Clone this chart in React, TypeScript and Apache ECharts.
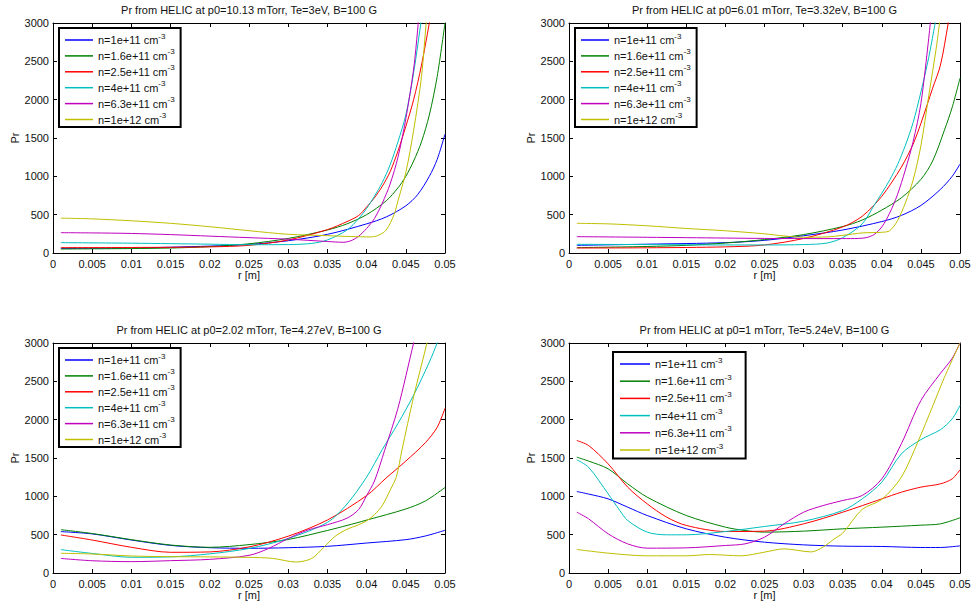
import React, { useEffect, useRef } from "react";
import * as echarts from "echarts";

const seriesNames = ["n=1e+11", "n=1.6e+11", "n=2.5e+11", "n=4e+11", "n=6.3e+11", "n=1e+12"];
const seriesColors = ["#0000ff", "#008000", "#ff0000", "#00bfbf", "#bf00bf", "#bfbf00"];
const panelTitles = [
  "Pr from HELIC at p0=10.13 mTorr, Te=3eV, B=100 G",
  "Pr from HELIC at p0=6.01 mTorr, Te=3.32eV, B=100 G",
  "Pr from HELIC at p0=2.02 mTorr, Te=4.27eV, B=100 G",
  "Pr from HELIC at p0=1 mTorr, Te=5.24eV, B=100 G",
];
const xMin = 0, xMax = 0.05, xStep = 0.005;
const yMin = 0, yMax = 3000, yStep = 500;

// Panel 1: p0=10.13 mTorr
const p1_n1 = [[0.001,60],[0.01,65],[0.02,90],[0.025,112],[0.03,160],[0.035,243],[0.04,380],[0.0425,470],[0.045,615],[0.0465,760],[0.048,1000],[0.049,1220],[0.05,1550]];
const p1_n2 = [[0.001,52],[0.01,58],[0.015,65],[0.02,83],[0.025,120],[0.03,190],[0.035,300],[0.0375,380],[0.04,500],[0.0425,680],[0.044,850],[0.045,1000],[0.046,1200],[0.047,1450],[0.048,1800],[0.049,2300],[0.05,3000]];
const p1_n3 = [[0.001,70],[0.01,72],[0.02,80],[0.025,100],[0.03,170],[0.035,305],[0.0375,410],[0.039,490],[0.04,600],[0.041,720],[0.042,870],[0.043,1060],[0.044,1330],[0.045,1650],[0.046,2000],[0.047,2450],[0.048,3000],[0.049,3600]];
const p1_n4 = [[0.001,135],[0.01,128],[0.02,115],[0.025,108],[0.03,110],[0.033,125],[0.035,170],[0.0375,300],[0.039,450],[0.04,580],[0.041,740],[0.042,920],[0.043,1150],[0.044,1450],[0.045,1800],[0.046,2350],[0.047,3050],[0.048,3700]];
const p1_n5 = [[0.001,265],[0.005,262],[0.01,255],[0.015,240],[0.02,220],[0.025,200],[0.03,180],[0.035,150],[0.037,140],[0.038,160],[0.039,220],[0.04,320],[0.041,450],[0.042,650],[0.043,900],[0.044,1250],[0.045,1750],[0.046,2400],[0.0465,2900],[0.047,3500]];
const p1_n6 = [[0.001,455],[0.005,445],[0.01,420],[0.015,387],[0.02,343],[0.025,291],[0.03,244],[0.035,226],[0.038,215],[0.0405,210],[0.0415,230],[0.0425,300],[0.0435,500],[0.044,680],[0.045,1050],[0.046,1600],[0.047,2300],[0.0476,3000],[0.048,3400]];

// Panel 2: p0=6.01 mTorr
const p2_n1 = [[0.001,100],[0.01,115],[0.02,135],[0.025,165],[0.03,225],[0.035,300],[0.04,410],[0.0425,490],[0.045,620],[0.0475,830],[0.049,1000],[0.05,1160]];
const p2_n2 = [[0.001,70],[0.01,85],[0.015,100],[0.02,130],[0.025,175],[0.03,240],[0.035,345],[0.0375,430],[0.04,560],[0.0425,720],[0.045,960],[0.0465,1200],[0.048,1600],[0.049,1900],[0.05,2280]];
const p2_n3 = [[0.001,65],[0.01,68],[0.02,80],[0.025,105],[0.03,190],[0.035,340],[0.0375,480],[0.04,740],[0.0425,1120],[0.044,1420],[0.045,1690],[0.0465,2150],[0.0475,2450],[0.0485,3000],[0.049,3300]];
const p2_n4 = [[0.001,113],[0.01,110],[0.02,105],[0.025,105],[0.03,110],[0.033,130],[0.035,200],[0.0375,380],[0.039,620],[0.04,780],[0.041,950],[0.042,1150],[0.043,1400],[0.044,1700],[0.045,2100],[0.046,2550],[0.047,3100]];
const p2_n5 = [[0.001,213],[0.01,205],[0.02,195],[0.025,190],[0.03,188],[0.035,188],[0.037,190],[0.038,200],[0.039,240],[0.04,340],[0.041,520],[0.042,760],[0.043,1080],[0.044,1450],[0.045,1950],[0.046,2800],[0.0465,3300]];
const p2_n6 = [[0.001,387],[0.005,380],[0.01,355],[0.015,320],[0.02,290],[0.025,250],[0.0275,222],[0.03,205],[0.033,210],[0.035,230],[0.0375,262],[0.04,270],[0.041,290],[0.042,420],[0.043,650],[0.044,950],[0.045,1400],[0.046,2050],[0.047,2700],[0.0475,3100]];

// Panel 3: p0=2.02 mTorr
const p3_n1 = [[0.001,540],[0.005,510],[0.01,430],[0.015,360],[0.02,330],[0.025,322],[0.03,330],[0.035,348],[0.04,391],[0.045,435],[0.0475,483],[0.05,557]];
const p3_n2 = [[0.001,565],[0.005,515],[0.01,435],[0.015,365],[0.02,335],[0.025,370],[0.03,437],[0.035,555],[0.0375,620],[0.04,690],[0.045,835],[0.0475,940],[0.05,1115]];
const p3_n3 = [[0.001,496],[0.005,430],[0.01,335],[0.015,270],[0.02,275],[0.025,340],[0.03,480],[0.035,691],[0.04,1010],[0.0425,1240],[0.045,1460],[0.0475,1700],[0.049,1900],[0.05,2148]];
const p3_n4 = [[0.001,305],[0.005,255],[0.01,205],[0.015,210],[0.02,250],[0.025,320],[0.03,450],[0.035,660],[0.0375,900],[0.04,1250],[0.042,1610],[0.044,1950],[0.046,2320],[0.048,2750],[0.049,3000],[0.05,3250]];
const p3_n5 = [[0.001,190],[0.005,160],[0.01,148],[0.015,161],[0.02,178],[0.025,230],[0.0275,320],[0.03,450],[0.0325,560],[0.035,630],[0.0375,715],[0.039,830],[0.04,1010],[0.041,1200],[0.0423,1600],[0.044,2150],[0.046,3000],[0.047,3400]];
const p3_n6 = [[0.001,257],[0.005,248],[0.01,222],[0.015,213],[0.02,210],[0.025,204],[0.028,191],[0.031,143],[0.033,190],[0.0345,330],[0.036,480],[0.0375,570],[0.039,630],[0.04,680],[0.041,760],[0.042,880],[0.043,1080],[0.0438,1256],[0.0445,1600],[0.046,2300],[0.0477,3000],[0.048,3150]];

// Panel 4: p0=1 mTorr
const p4_n1 = [[0.001,1063],[0.0025,1030],[0.005,967],[0.0075,859],[0.01,750],[0.015,576],[0.02,467],[0.025,402],[0.03,367],[0.035,350],[0.04,346],[0.045,333],[0.0475,333],[0.05,354]];
const p4_n2 = [[0.001,1511],[0.0025,1460],[0.005,1359],[0.0075,1163],[0.01,989],[0.015,750],[0.02,598],[0.0225,554],[0.025,533],[0.03,546],[0.035,576],[0.04,598],[0.045,624],[0.0475,641],[0.05,720]];
const p4_n3 = [[0.001,1728],[0.0025,1663],[0.005,1424],[0.0075,1120],[0.01,902],[0.0125,728],[0.015,620],[0.02,541],[0.025,546],[0.03,641],[0.035,793],[0.04,967],[0.0425,1054],[0.045,1120],[0.0475,1163],[0.049,1228],[0.05,1346]];
const p4_n4 = [[0.001,1476],[0.0025,1380],[0.005,1033],[0.0065,815],[0.0075,685],[0.01,533],[0.0125,498],[0.015,498],[0.02,541],[0.025,607],[0.03,676],[0.035,815],[0.0375,967],[0.04,1185],[0.0425,1554],[0.045,1740],[0.0475,1870],[0.049,2011],[0.05,2185]];
const p4_n5 = [[0.001,793],[0.0025,707],[0.005,511],[0.0075,380],[0.01,324],[0.015,328],[0.02,359],[0.0225,380],[0.025,467],[0.0275,641],[0.03,793],[0.0325,880],[0.035,946],[0.0375,1011],[0.04,1228],[0.0425,1685],[0.045,2250],[0.0475,2604],[0.049,2800],[0.05,3000]];
const p4_n6 = [[0.001,307],[0.005,259],[0.01,224],[0.015,224],[0.018,241],[0.022,224],[0.025,272],[0.0275,315],[0.031,275],[0.0325,340],[0.034,450],[0.035,520],[0.0375,830],[0.04,960],[0.0425,1250],[0.0446,1707],[0.0466,2200],[0.048,2550],[0.05,3000]];

const panelData = [
  [p1_n1, p1_n2, p1_n3, p1_n4, p1_n5, p1_n6],
  [p2_n1, p2_n2, p2_n3, p2_n4, p2_n5, p2_n6],
  [p3_n1, p3_n2, p3_n3, p3_n4, p3_n5, p3_n6],
  [p4_n1, p4_n2, p4_n3, p4_n4, p4_n5, p4_n6],
];

const FONT = '"Liberation Sans", Arial, Helvetica, sans-serif';
const TXT = "#111";

const grids = [
  { left: 53, top: 23, width: 392, height: 230 },
  { left: 569, top: 23, width: 391, height: 230 },
  { left: 53, top: 343, width: 392, height: 230 },
  { left: 569, top: 343, width: 391, height: 230 },
];

const legendPos = [
  { left: 59, top: 28, itemWidth: 28, itemGap: 2.4, padding: [4, 6, 2, 6] },
  { left: 575, top: 28, itemWidth: 28, itemGap: 2.4, padding: [4, 6, 2, 6] },
  { left: 59, top: 348, itemWidth: 28, itemGap: 2.4, padding: [4, 6, 2, 6] },
  { left: 613, top: 352, itemWidth: 30, itemGap: 3.7, padding: [4, 14, 3, 7] },
];

export default function App() {
  const ref = useRef<HTMLDivElement>(null);
  useEffect(() => {
    const chart = echarts.init(ref.current!, null, { renderer: "svg" });
    const xAxes: any[] = [];
    const yAxes: any[] = [];
    const series: any[] = [];
    const legends: any[] = [];
    const graphics: any[] = [];
    const fmtX = (v: number) => String(+v.toFixed(3));
    const fmtY = (v: number) => String(Math.round(v));
    grids.forEach((g, i) => {
      const tick = { show: true, inside: true, length: 4, lineStyle: { color: "#000", width: 1 } };
      const line = { show: true, onZero: false, lineStyle: { color: "#000", width: 1 } };
      xAxes.push({
        type: "value", gridIndex: i, min: xMin, max: xMax, interval: xStep, position: "bottom",
        axisLine: line, axisTick: tick, splitLine: { show: false },
        axisLabel: { color: TXT, fontSize: 11, fontFamily: FONT, margin: 5, formatter: fmtX },
        name: "r [m]", nameLocation: "middle", nameGap: 16,
        nameTextStyle: { color: TXT, fontSize: 11, fontFamily: FONT },
      });
      xAxes.push({
        type: "value", gridIndex: i, min: xMin, max: xMax, interval: xStep, position: "top",
        axisLine: line, axisTick: tick, splitLine: { show: false }, axisLabel: { show: false },
      });
      yAxes.push({
        type: "value", gridIndex: i, min: yMin, max: yMax, interval: yStep, position: "left",
        axisLine: line, axisTick: tick, splitLine: { show: false },
        axisLabel: { color: TXT, fontSize: 11, fontFamily: FONT, margin: 4, formatter: fmtY },
        name: "Pr", nameLocation: "middle", nameGap: 30,
        nameTextStyle: { color: TXT, fontSize: 11, fontFamily: FONT },
      });
      yAxes.push({
        type: "value", gridIndex: i, min: yMin, max: yMax, interval: yStep, position: "right",
        axisLine: line, axisTick: tick, splitLine: { show: false }, axisLabel: { show: false },
      });
      panelData[i].forEach((d, j) => {
        series.push({
          type: "line", name: seriesNames[j], xAxisIndex: 2 * i, yAxisIndex: 2 * i,
          data: d, showSymbol: false, symbol: "none", smooth: 0.3,
          clip: true, silent: true,
          lineStyle: { width: 1, color: seriesColors[j] }, itemStyle: { color: seriesColors[j] },
        });
      });
      const lp = legendPos[i];
      legends.push({
        orient: "vertical", left: lp.left, top: lp.top, data: seriesNames, icon: "rect",
        itemWidth: lp.itemWidth, itemHeight: 1.5, itemGap: lp.itemGap, padding: lp.padding,
        borderColor: "#000", borderWidth: 2, backgroundColor: "#fff", selectedMode: false, align: "left",
        formatter: (n: string) => `{b|${n} cm}{s|-3}`,
        textStyle: {
          fontFamily: FONT, fontSize: 11, color: TXT,
          rich: {
            b: { fontFamily: FONT, fontSize: 11, color: TXT, lineHeight: 16 },
            s: { fontFamily: FONT, fontSize: 8, color: TXT, lineHeight: 4, verticalAlign: "top" },
          },
        },
      });
      graphics.push({
        type: "text", x: g.left + g.width / 2, y: g.top - 13,
        style: { text: panelTitles[i], fontSize: 11, fontFamily: FONT, fill: TXT, align: "center", verticalAlign: "middle" },
      });
    });
    chart.setOption({
      animation: false,
      backgroundColor: "#fff",
      grid: grids.map((g) => ({ ...g, containLabel: false })),
      xAxis: xAxes,
      yAxis: yAxes,
      legend: legends,
      series,
      graphic: graphics,
    });
    return () => chart.dispose();
  }, []);
  return <div ref={ref} style={{ position: "fixed", left: 0, top: 0, width: 974, height: 605, background: "#fff" }} />;
}
